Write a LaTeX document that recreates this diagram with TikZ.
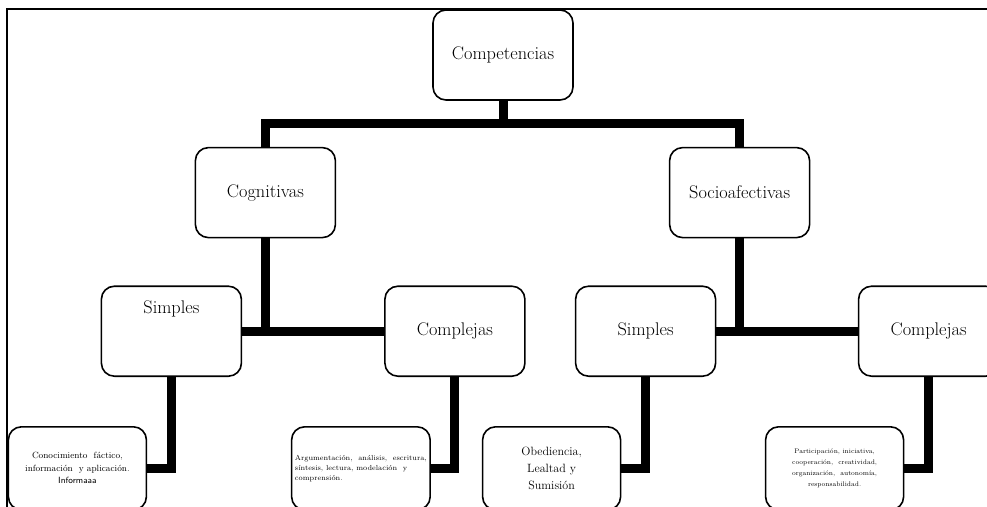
\documentclass[tikz,border=0pt]{standalone}
\usepackage{fontspec}
\usepackage{tikz}
\usetikzlibrary{positioning}

\begin{document}
\begin{tikzpicture}[
  x=1pt,y=1pt,
  box/.style={draw,rounded corners=13pt,line width=1.6pt,fill=white,align=center,
    minimum width=140pt,minimum height=90pt,font=\fontsize{18.3}{22}\selectfont},
  leaf/.style={box,minimum width=138pt,minimum height=83pt},
  link/.style={line width=9pt,line join=miter},
  note/.style={font=\fontsize{7.3}{10}\selectfont},
  node distance=46pt
]
\useasboundingbox (0,0) rectangle (987,-506);
% frame of the page
\draw[line width=2.5pt] (1000,-9) -- (7,-9) -- (7,-520);

\node[box] (comp) at (503,-55) {Competencias};
\node[box, below left=46pt and 96pt of comp] (cogn) {Cognitivas};
\node[box, below right=46pt and 95pt of comp] (socio) {Socioafectivas};

\node[box, below=47pt of cogn, xshift=-94pt, text height=13pt, text depth=49pt] (cogsimp) {Simples};
\node[box, below=47pt of cogn, xshift=189.5pt] (cogcomp) {Complejas};
\node[box, below=47pt of socio, xshift=-94pt] (socsimp) {Simples};
\node[box, below=47pt of socio, xshift=189pt] (soccomp) {Complejas};

\node[leaf, below=49pt of cogsimp, xshift=-94pt, font=\fontsize{9}{12.5}\selectfont] (fact)
  {Conocimiento\ \ fáctico,\\información\ \ y aplicación.\\{\sffamily Informaaa}};
\node[leaf, below=49pt of cogcomp, xshift=-94pt, note, align=left] (skills)
  {Argumentación,\ \ análisis,\ \ escritura,\\síntesis,\ lectura, modelación\ \ y\\comprensión.};
\node[leaf, below=49pt of socsimp, xshift=-94pt, font=\fontsize{12}{17}\selectfont] (obed)
  {Obediencia,\\Lealtad y\\Sumisión};
\node[leaf, below=49pt of soccomp, xshift=-94pt, font=\fontsize{6.6}{11}\selectfont] (partic)
  {Participación,\ iniciativa,\\cooperación,\ \ creatividad,\\organización,\ \ autonomía,\\responsabilidad.};

\coordinate[below=23pt of comp] (top);
\draw[link] (comp.south) -- (top);
\draw[link] (cogn.north) |- (top) -| (socio.north);

\draw[link] (cogsimp.east) -- (cogcomp.west);
\draw[link] (cogn.south) -- (cogn.south |- cogsimp.east);
\draw[link] (socsimp.east) -- (soccomp.west);
\draw[link] (socio.south) -- (socio.south |- socsimp.east);

\draw[link] (cogsimp.south) |- (fact.east);
\draw[link] (cogcomp.south) |- (skills.east);
\draw[link] (socsimp.south) |- (obed.east);
\draw[link] (soccomp.south) |- (partic.east);
\end{tikzpicture}
\end{document}
